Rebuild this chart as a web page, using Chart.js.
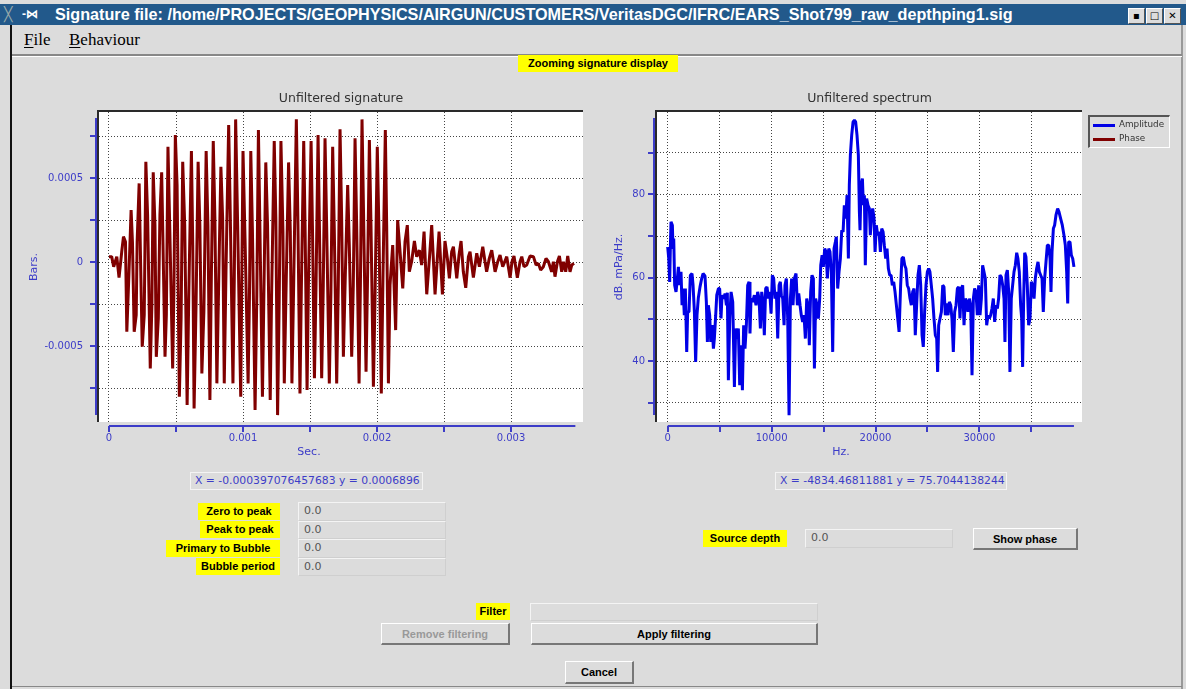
<!DOCTYPE html>
<html lang="en">
  <head>
    <meta charset="UTF-8" />
    <title>Signature file</title>
    <script src="https://cdnjs.cloudflare.com/ajax/libs/Chart.js/4.4.1/chart.umd.min.js"></script>
    <style>
      body { margin: 0; width: 1186px; height: 689px; overflow: hidden; position: relative; background: #dcdcdc; font-family: "Liberation Sans", Arial, sans-serif; }
      .abs { position: absolute; }
      .titlebar { left: 0; top: 4px; width: 1186px; height: 21px; background: #22598b; color: #fff; font: bold 16.2px "Liberation Sans", Arial, sans-serif; line-height: 21px; }
      .winbtn { top: 8px; width: 15px; height: 14px; background: #dcdcdc; border: 1px solid #fff; border-right-color: #555; border-bottom-color: #555; font: bold 10px "DejaVu Sans"; text-align: center; line-height: 14px; color: #000; }
      .menubar { left: 12px; top: 25px; width: 1170px; height: 29px; border-bottom: 2px solid #888; box-shadow: 0 1px 0 #fff; }
      .menu { top: 30px; font: 17px "Liberation Serif", "Times New Roman", serif; color: #000; }
      .menu u { text-decoration: underline; text-underline-offset: 2px; }
      .yl { background: #ffff00; font: bold 11px "Liberation Sans", Arial, sans-serif; color: #000; height: 17px; line-height: 17px; text-align: center; }
      .field { background: #dcdcdc; border: 1px solid #f4f4f4; border-right-color: #cfcfcf; border-bottom-color: #cfcfcf; box-sizing: border-box; font: 11px "DejaVu Sans"; color: #555; line-height: 16px; padding-left: 5px; }
      .readout { border: 1px solid #f4f4f4; box-sizing: border-box; font: 10.8px "DejaVu Sans"; color: #3c3cc8; line-height: 16px; white-space: nowrap; overflow: hidden; padding-left: 4px; }
      .btn { background: #dcdcdc; border: 1px solid #fff; border-right: 2px solid #777; border-bottom: 2px solid #777; box-sizing: border-box; font: bold 11px "Liberation Sans", Arial, sans-serif; color: #000; text-align: center; }
      .legend { left: 1088px; top: 115px; width: 82px; height: 33px; box-sizing: border-box; border: 1px solid #fff; border-left: 2px solid #555; border-top: 2px solid #555; }
      .legend div { position: absolute; left: 29px; font: 8.8px "DejaVu Sans"; color: #333; }
      .legend span { position: absolute; left: 3px; width: 22px; height: 3px; }
    </style>
  </head>

  <body>
    <div class="abs titlebar">
      <span class="abs" style="left:4px;color:#9aa;font-weight:normal;font-size:14px">&#x2573;</span>
      <span class="abs" style="left:22px;font-size:12px">-&#x22C8;</span>
      <span class="abs" style="left:55px">Signature file: /home/PROJECTS/GEOPHYSICS/AIRGUN/CUSTOMERS/VeritasDGC/IFRC/EARS_Shot799_raw_depthping1.sig</span>
    </div>
    <div class="abs winbtn" style="left:1128px">&#x25AA;</div>
    <div class="abs winbtn" style="left:1146px">&#x25A1;</div>
    <div class="abs winbtn" style="left:1164px">&#x2715;</div>
    <div class="abs" style="left:10px;top:25px;width:2px;height:664px;background:#111"></div>
    <div class="abs" style="left:1181px;top:25px;width:2px;height:664px;background:#999"></div>
    <div class="abs" style="left:12px;top:686px;width:1170px;height:1px;background:#888"></div>
    <div class="abs menubar"></div>
    <div class="abs menu" style="left:24px"><u>F</u>ile</div>
    <div class="abs menu" style="left:69px"><u>B</u>ehaviour</div>

    <div class="abs yl" style="left:518px;top:55px;width:160px">Zooming signature display</div>

    <canvas id="sig_chart" class="abs" style="left:20px;top:85px" width="580" height="385"></canvas>
    <canvas id="spec_chart" class="abs" style="left:600px;top:85px" width="490" height="385"></canvas>

    <div class="abs legend">
      <span style="top:7px;background:#0000e6"></span><div style="top:2px">Amplitude</div>
      <span style="top:21px;background:#800000"></span><div style="top:16px">Phase</div>
    </div>

    <div class="abs readout" style="left:190px;top:472px;width:233px;height:18px">X = -0.000397076457683 y = 0.0006896</div>
    <div class="abs readout" style="left:775px;top:472px;width:232px;height:18px">X = -4834.46811881 y = 75.7044138244</div>

    <div class="abs yl" style="left:198px;top:503px;width:82px">Zero to peak</div>
    <div class="abs yl" style="left:200px;top:521px;width:80px">Peak to peak</div>
    <div class="abs yl" style="left:166px;top:540px;width:114px">Primary to Bubble</div>
    <div class="abs yl" style="left:196px;top:558px;width:84px">Bubble period</div>
    <div class="abs field" style="left:298px;top:502px;width:148px;height:19px">0.0</div>
    <div class="abs field" style="left:298px;top:521px;width:148px;height:18px">0.0</div>
    <div class="abs field" style="left:298px;top:539px;width:148px;height:19px">0.0</div>
    <div class="abs field" style="left:298px;top:558px;width:148px;height:18px">0.0</div>

    <div class="abs yl" style="left:703px;top:530px;width:84px">Source depth</div>
    <div class="abs field" style="left:805px;top:529px;width:148px;height:19px">0.0</div>
    <div class="abs btn" style="left:973px;top:528px;width:105px;height:22px;line-height:20px">Show phase</div>

    <div class="abs yl" style="left:476px;top:603px;width:34px">Filter</div>
    <div class="abs field" style="left:530px;top:603px;width:288px;height:18px"></div>
    <div class="abs btn" style="left:381px;top:623px;width:129px;height:22px;line-height:20px;color:#999">Remove filtering</div>
    <div class="abs btn" style="left:531px;top:623px;width:287px;height:22px;line-height:20px">Apply filtering</div>
    <div class="abs btn" style="left:565px;top:661px;width:69px;height:23px;line-height:21px">Cancel</div>

    <script>
      // tick positions (labels only on every other one)
      var sigXTicks = [0, 0.0005, 0.001, 0.0015, 0.002, 0.0025, 0.003];
      var sigYTicks = [-0.00075, -0.0005, -0.00025, 0, 0.00025, 0.0005, 0.00075];
      var specXTicks = [0, 5000, 10000, 15000, 20000, 25000, 30000, 35000];
      var specYTicks = [30, 40, 50, 60, 70, 80, 90];

      // signature, time in ms and pressure in 1e-4 bars
      var sigTimeMs = [
        0, 0.02, 0.035, 0.058, 0.075, 0.095, 0.108, 0.123, 0.133, 0.148,
        0.165, 0.175, 0.188, 0.203, 0.21, 0.225, 0.238, 0.248, 0.263, 0.275,
        0.288, 0.308, 0.32, 0.33, 0.343, 0.353, 0.368, 0.38, 0.393, 0.403,
        0.418, 0.428, 0.44, 0.453, 0.475, 0.485, 0.495, 0.508, 0.525, 0.538,
        0.55, 0.565, 0.583, 0.595, 0.615, 0.625, 0.635, 0.65, 0.665, 0.678,
        0.693, 0.708, 0.725, 0.738, 0.753, 0.763, 0.778, 0.79, 0.805, 0.82,
        0.835, 0.848, 0.86, 0.873, 0.893, 0.905, 0.925, 0.935, 0.945, 0.96,
        0.983, 0.99, 1.0, 1.015, 1.038, 1.048, 1.058, 1.07, 1.09, 1.103,
        1.115, 1.125, 1.145, 1.155, 1.17, 1.183, 1.203, 1.213, 1.233, 1.245,
        1.258, 1.27, 1.283, 1.298, 1.308, 1.32, 1.34, 1.353, 1.365, 1.378,
        1.398, 1.41, 1.425, 1.435, 1.453, 1.463, 1.478, 1.488, 1.508, 1.518,
        1.533, 1.545, 1.56, 1.587, 1.599, 1.612, 1.624, 1.644, 1.656, 1.669,
        1.681, 1.699, 1.711, 1.724, 1.736, 1.749, 1.764, 1.781, 1.793, 1.811,
        1.823, 1.836, 1.848, 1.866, 1.876, 1.888, 1.9, 1.918, 1.93, 1.943,
        1.955, 1.973, 1.985, 2.002, 2.015, 2.032, 2.045, 2.062, 2.072, 2.085,
        2.097, 2.117, 2.139, 2.154, 2.172, 2.192, 2.209, 2.226, 2.241, 2.258,
        2.279, 2.296, 2.316, 2.333, 2.351, 2.371, 2.391, 2.408, 2.433, 2.45,
        2.463, 2.488, 2.507, 2.525, 2.54, 2.557, 2.57, 2.595, 2.612, 2.627,
        2.644, 2.662, 2.682, 2.694, 2.719, 2.744, 2.764, 2.789, 2.806, 2.818,
        2.838, 2.856, 2.881, 2.901, 2.918, 2.938, 2.968, 2.993, 3.007, 3.022,
        3.047, 3.067, 3.08, 3.097, 3.117, 3.142, 3.167, 3.187, 3.204, 3.221,
        3.241, 3.261, 3.279, 3.303, 3.316, 3.328, 3.346, 3.361, 3.378, 3.391,
        3.408, 3.423, 3.44, 3.453, 3.47
      ];
      var sigBarsE4 = [
        0.34, 0.34, -0.26, 0.34, -0.91, 0.63, 1.53, 1.23, -4.13, -0.85,
        3.12, 1.23, -4.13, -3.13, 1.23, 4.7, -0.95, -5.02, -3.13, 5.99,
        2.82, -6.31, -2.54, 5.36, 2.22, -5.62, -3.33, 2.82, 5.36, 1.03,
        -5.62, -3.13, 6.88, 2.22, -6.31, -1.35, 7.58, 4.6, -8.0, -3.33,
        5.99, 2.22, -8.49, -2.14, 6.63, 1.03, -8.69, -2.34, 5.99, 2.22,
        -6.61, -2.94, 6.63, 2.22, -8.19, -1.35, 7.22, 2.72, -7.2, -0.56,
        5.69, 2.62, -7.2, -0.56, 8.17, 2.82, -7.2, -0.95, 8.51, 2.22,
        -8.0, -1.75, 6.63, 1.43, -7.2, -2.14, 6.63, 2.02, -8.79, -1.94,
        7.88, 2.62, -8.0, -2.34, 5.95, 2.22, -8.19, -2.14, 7.22, 2.62,
        -9.09, -2.34, 7.22, 1.83, -7.2, -2.14, 5.95, 1.83, -7.2, -1.35,
        8.51, 2.22, -7.8, -1.75, 7.22, 2.22, -7.6, -1.35, 7.22, 2.22,
        -6.9, -1.35, 7.58, -6.9, -1.35, 7.38, 2.22, -7.2, -1.75, 6.88,
        2.02, -7.2, -1.35, 7.92, 2.62, -5.62, -0.56, 4.6, 1.03, -5.62,
        -1.35, 7.38, 2.22, -7.2, -1.35, 8.51, 2.62, -6.51, -0.56, 7.28,
        2.22, -7.4, -2.14, 6.88, 1.63, -7.8, -0.56, 7.88, 2.22, -7.2,
        -1.35, 1.03, -4.03, 2.52, 0.63, -1.55, 1.23, 2.22, -0.56, 0.04,
        1.27, 0.34, 0.73, -0.16, 1.83, -1.9, 0.24, 2.22, -1.9, 0.24,
        1.83, -1.9, 1.27, 0.24, -0.95, 0.63, 0.93, -0.95, 0.44, 1.27,
        -0.56, -1.51, 0.34, 0.63, -0.91, 0.54, -0.26, 0.93, 0.04, -0.56,
        0.24, 0.73, -0.56, 0.04, 0.44, -0.26, 0.34, -0.91, 0.04, 0.38,
        -0.91, 0.04, 0.34, -0.26, -0.16, 0.38, 0.34, -0.16, -0.06, -0.46,
        -0.26, 0.24, 0.04, -0.56, 0.04, -0.85, 0.04, 0.38, -0.56, 0.04,
        -0.56, 0.38, -0.56, -0.16, -0.06
      ];

      // spectrum, frequency in kHz and amplitude in dB
      var specFreqKHz = [
        0, 0.1, 0.19, 0.26, 0.32, 0.45, 0.51, 0.58, 0.67, 0.8,
        0.9, 1.03, 1.15, 1.28, 1.38, 1.48, 1.6, 1.7, 1.83, 1.92,
        2.05, 2.18, 2.34, 2.44, 2.57, 2.69, 2.82, 2.95, 3.11, 3.27,
        3.4, 3.59, 3.72, 3.82, 3.91, 4.04, 4.14, 4.27, 4.4, 4.49,
        4.62, 4.72, 4.88, 5.0, 5.13, 5.23, 5.39, 5.52, 5.65, 5.74,
        5.84, 5.97, 6.1, 6.26, 6.42, 6.54, 6.67, 6.8, 6.93, 7.06,
        7.19, 7.31, 7.44, 7.57, 7.7, 7.83, 7.92, 8.02, 8.18, 8.34,
        8.5, 8.66, 8.79, 8.92, 9.05, 9.18, 9.3, 9.43, 9.56, 9.69,
        9.82, 9.95, 10.07, 10.2, 10.33, 10.46, 10.59, 10.72, 10.84, 10.94,
        11.07, 11.2, 11.29, 11.42, 11.55, 11.68, 11.81, 11.93, 12.06, 12.19,
        12.35, 12.48, 12.61, 12.74, 12.86, 12.99, 13.12, 13.25, 13.38, 13.51,
        13.63, 13.76, 13.89, 14.02, 14.12, 14.24, 14.37, 14.5, 14.63, 14.73,
        14.86, 14.98, 15.11, 15.24, 15.37, 15.5, 15.62, 15.75, 15.88, 16.01,
        16.14, 16.23, 16.36, 16.49, 16.62, 16.75, 16.88, 17.0, 17.13, 17.26,
        17.39, 17.48, 17.58, 17.71, 17.84, 17.97, 18.09, 18.22, 18.35, 18.45,
        18.51, 18.61, 18.74, 18.83, 18.93, 19.02, 19.15, 19.28, 19.41, 19.5,
        19.6, 19.73, 19.86, 19.96, 20.08, 20.21, 20.34, 20.47, 20.6, 20.73,
        20.85, 20.98, 21.11, 21.24, 21.37, 21.5, 21.62, 21.75, 21.88, 22.01,
        22.14, 22.27, 22.42, 22.54, 22.68, 22.81, 22.93, 23.06, 23.19, 23.32,
        23.45, 23.58, 23.71, 23.83, 23.96, 24.09, 24.22, 24.35, 24.48, 24.6,
        24.73, 24.86, 24.99, 25.12, 25.24, 25.37, 25.5, 25.63, 25.76, 25.89,
        25.98, 26.08, 26.21, 26.34, 26.47, 26.59, 26.72, 26.85, 26.98, 27.11,
        27.24, 27.36, 27.49, 27.62, 27.75, 27.88, 28.01, 28.13, 28.26, 28.39,
        28.52, 28.65, 28.77, 28.9, 29.03, 29.16, 29.29, 29.42, 29.54, 29.67,
        29.8, 29.93, 30.06, 30.19, 30.31, 30.44, 30.57, 30.7, 30.83, 30.96,
        31.08, 31.21, 31.34, 31.47, 31.6, 31.73, 31.85, 31.98, 32.11, 32.24,
        32.37, 32.46, 32.56, 32.69, 32.82, 32.94, 33.07, 33.2, 33.33, 33.46,
        33.59, 33.71, 33.84, 33.97, 34.07, 34.16, 34.26, 34.36, 34.48, 34.61,
        34.74, 34.87, 35.0, 35.13, 35.26, 35.38, 35.51, 35.64, 35.77, 35.9,
        36.03, 36.15, 36.28, 36.41, 36.54, 36.67, 36.8, 36.89, 36.99, 37.12,
        37.24, 37.37, 37.53, 37.66, 37.82, 37.98, 38.14, 38.27, 38.4, 38.5,
        38.59, 38.72, 38.85, 38.98, 39.1
      ];
      var specDb = [
        67.4, 64.6, 59.0, 67.8, 73.4, 72.6, 67.0, 69.4, 58.2, 56.6,
        59.0, 62.6, 58.2, 61.4, 53.4, 57.4, 51.0, 57.4, 42.2, 51.8,
        51.8, 60.6, 61.0, 58.2, 51.8, 39.8, 51.0, 55.2, 57.8, 59.8,
        61.0, 60.4, 54.2, 44.6, 53.4, 51.0, 44.6, 48.6, 43.0, 45.4,
        51.0, 55.8, 57.4, 57.4, 50.2, 55.8, 55.0, 56.2, 53.4, 56.4,
        35.4, 50.2, 56.6, 54.2, 33.8, 47.8, 45.4, 47.8, 34.2, 43.8,
        33.0, 48.6, 43.0, 48.6, 58.2, 59.0, 46.6, 55.0, 54.2, 55.8,
        53.4, 56.6, 55.0, 47.8, 56.6, 54.2, 46.2, 57.4, 57.8, 55.0,
        56.6, 51.4, 60.6, 59.8, 55.0, 56.6, 45.4, 58.2, 59.0, 55.8,
        55.0, 48.6, 58.2, 59.8, 50.2, 27.0, 55.0, 59.8, 53.4, 59.8,
        61.0, 53.4, 56.2, 53.4, 51.0, 49.4, 51.0, 45.4, 55.0, 53.4,
        43.8, 56.6, 60.6, 59.8, 38.2, 55.0, 53.4, 50.2, 55.0, 63.0,
        65.4, 62.6, 67.0, 66.2, 59.8, 67.0, 66.2, 61.4, 42.2, 67.0,
        68.6, 69.8, 57.4, 61.4, 64.6, 71.4, 71.0, 77.4, 74.2, 79.8,
        64.6, 82.2, 89.4, 94.2, 97.4, 97.8, 97.4, 94.2, 89.4, 75.8,
        71.4, 82.2, 83.8, 77.4, 79.8, 63.0, 79.0, 77.4, 76.6, 70.2,
        74.2, 76.6, 74.2, 66.2, 72.6, 70.2, 71.0, 66.2, 71.8, 71.0,
        67.8, 64.6, 67.0, 62.2, 60.6, 60.6, 58.2, 59.0, 56.6, 53.4,
        50.2, 47.0, 58.2, 64.6, 65.0, 63.0, 62.2, 58.2, 57.4, 55.0,
        53.4, 56.6, 57.4, 46.2, 53.4, 60.6, 63.0, 58.2, 46.2, 43.4,
        51.8, 58.2, 61.4, 62.2, 61.4, 58.2, 55.0, 50.2, 46.2, 45.4,
        37.4, 48.6, 50.2, 51.8, 58.2, 57.8, 51.0, 53.8, 51.0, 54.2,
        53.4, 50.2, 42.2, 51.8, 53.4, 57.4, 57.8, 50.2, 57.4, 58.2,
        48.6, 55.0, 54.2, 51.8, 55.0, 53.4, 36.6, 55.0, 57.4, 56.6,
        51.0, 58.2, 51.0, 55.0, 63.0, 61.4, 59.8, 48.6, 51.0, 50.2,
        51.0, 52.6, 55.0, 49.4, 53.4, 52.6, 55.0, 60.6, 60.2, 58.2,
        55.0, 44.6, 60.6, 61.8, 56.6, 37.4, 55.0, 58.2, 61.4, 63.0,
        66.0, 64.6, 61.4, 53.4, 50.2, 38.6, 55.0, 66.0, 65.0, 58.2,
        48.6, 50.2, 59.0, 58.2, 55.0, 59.8, 62.2, 63.8, 61.4, 60.6,
        59.8, 51.8, 59.8, 63.8, 67.8, 67.8, 64.6, 56.6, 66.2, 71.8,
        72.6, 75.0, 76.6, 75.8, 74.2, 72.6, 70.2, 67.8, 61.4, 53.8,
        68.6, 68.6, 65.4, 64.6, 62.6
      ];

      var axisBlue = "#3c3cc8";
      Chart.defaults.font.family = "DejaVu Sans";
      Chart.defaults.animation = false;

      // white plot area, sunken frame and the detached blue axes
      const frameAxes = {
        id: "frameAxes",
        beforeDraw(chart) {
          const { ctx, chartArea: a } = chart;
          ctx.save();
          ctx.fillStyle = "#fff";
          ctx.fillRect(a.left, a.top, a.right - a.left, a.bottom - a.top);
          ctx.restore();
        },
        afterDraw(chart, args, o) {
          const { ctx, chartArea: a } = chart;
          const x = chart.scales.x, y = chart.scales.y;
          ctx.save();
          ctx.strokeStyle = "#2a2a2a";
          ctx.lineWidth = 2;
          ctx.beginPath();
          ctx.moveTo(a.left - 1, a.bottom);
          ctx.lineTo(a.left - 1, a.top - 1);
          ctx.lineTo(a.right, a.top - 1);
          ctx.stroke();

          const ax = a.left - 3, ay = a.bottom + 4;
          ctx.strokeStyle = axisBlue;
          ctx.lineWidth = 2;
          ctx.beginPath();
          ctx.moveTo(ax, a.top + 6);
          ctx.lineTo(ax, a.bottom - 7);
          ctx.moveTo(x.getPixelForValue(o.xFrom), ay);
          ctx.lineTo(x.getPixelForValue(o.xTo), ay);
          y.ticks.forEach(t => {
            const py = Math.round(y.getPixelForValue(t.value));
            ctx.moveTo(ax - 6, py);
            ctx.lineTo(ax, py);
          });
          x.ticks.forEach(t => {
            const px = Math.round(x.getPixelForValue(t.value));
            ctx.moveTo(px, ay);
            ctx.lineTo(px, ay + 6);
          });
          ctx.stroke();

          ctx.fillStyle = axisBlue;
          ctx.font = '11px "DejaVu Sans"';
          ctx.textAlign = "center";
          ctx.textBaseline = "middle";
          ctx.fillText(o.xTitle, o.xTitleX, o.xTitleY);
          ctx.restore();
        }
      };

      function gridOpts() {
        return { color: "#444", lineWidth: 1, drawTicks: false };
      }
      function tickFont() {
        return { size: 10 };
      }
      function useTicks(list) {
        return s => { s.ticks = list.map(v => ({ value: v })); };
      }
      // label only the ticks that are whole multiples of step
      function everyLabel(step) {
        return v => {
          const k = Math.round(v / step);
          return Math.abs(v - k * step) < step * 1e-6 ? String(k === 0 ? 0 : +(k * step).toPrecision(6)) : "";
        };
      }

      const sigData = sigTimeMs.map((t, i) => ({ x: t / 1000, y: sigBarsE4[i] / 10000 }));
      const specData = specFreqKHz.map((f, i) => ({ x: f * 1000, y: specDb[i] }));

      const sigChart = new Chart("sig_chart", {
        type: "line",
        data: {
          datasets: [{
            label: "Signature",
            data: sigData,
            borderColor: "#800000",
            borderWidth: 3,
            borderJoinStyle: "bevel",
            pointRadius: 0,
            tension: 0
          }]
        },
        options: {
          responsive: false,
          layout: { padding: { left: 0, top: 0, right: 17, bottom: 0 } },
          plugins: {
            legend: { display: false },
            tooltip: { enabled: false },
            title: {
              display: true, text: "Unfiltered signature", fullSize: false, color: "#333",
              font: { size: 12.5, weight: "normal", lineHeight: 1.2 }, padding: { top: 6, bottom: 6 }
            },
            frameAxes: { xFrom: 0, xTo: 0.00348, xTitle: "Sec.", xTitleX: 289, xTitleY: 367 }
          },
          scales: {
            x: {
              type: "linear", min: -0.0000746, max: 0.003537,
              afterBuildTicks: useTicks(sigXTicks),
              afterFit: s => { s.height = 48; },
              grid: gridOpts(),
              border: { display: false, dash: [1, 2] },
              ticks: {
                autoSkip: false, maxRotation: 0,
                padding: 10, color: axisBlue, font: tickFont(),
                callback: everyLabel(0.001)
              }
            },
            y: {
              type: "linear", min: -0.00095, max: 0.000895,
              afterBuildTicks: useTicks(sigYTicks),
              afterFit: s => { s.width = 79; },
              grid: gridOpts(),
              border: { display: false, dash: [1, 2] },
              title: { display: true, text: "Bars.", color: axisBlue, font: { size: 11 }, padding: { top: 8, bottom: 0 } },
              ticks: {
                autoSkip: false,
                padding: 16, color: axisBlue, font: tickFont(),
                callback: everyLabel(0.0005)
              }
            }
          }
        },
        plugins: [frameAxes]
      });

      const specChart = new Chart("spec_chart", {
        type: "line",
        data: {
          datasets: [{
            label: "Amplitude",
            data: specData,
            borderColor: "#0000e6",
            borderWidth: 3,
            borderJoinStyle: "bevel",
            pointRadius: 0,
            tension: 0
          }, {
            label: "Phase",
            data: [],
            borderColor: "#800000"
          }]
        },
        options: {
          responsive: false,
          layout: { padding: { left: 0, top: 0, right: 8, bottom: 0 } },
          plugins: {
            legend: { display: false },
            tooltip: { enabled: false },
            title: {
              display: true, text: "Unfiltered spectrum", fullSize: false, color: "#333",
              font: { size: 12.5, weight: "normal", lineHeight: 1.2 }, padding: { top: 6, bottom: 6 }
            },
            frameAxes: { xFrom: 0, xTo: 39100, xTitle: "Hz.", xTitleX: 241, xTitleY: 367 }
          },
          scales: {
            x: {
              type: "linear", min: -1030, max: 39875,
              afterBuildTicks: useTicks(specXTicks),
              afterFit: s => { s.height = 48; },
              grid: gridOpts(),
              border: { display: false, dash: [1, 2] },
              ticks: {
                autoSkip: false, maxRotation: 0,
                padding: 10, color: axisBlue, font: tickFont(),
                callback: everyLabel(10000)
              }
            },
            y: {
              type: "linear", min: 25.37, max: 99.77,
              afterBuildTicks: useTicks(specYTicks),
              afterFit: s => { s.width = 57; },
              grid: gridOpts(),
              border: { display: false, dash: [1, 2] },
              title: { display: true, text: "dB. mPa/Hz.", color: axisBlue, font: { size: 11 }, padding: { top: 13, bottom: 0 } },
              ticks: {
                autoSkip: false,
                padding: 12, color: axisBlue, font: tickFont(),
                callback: everyLabel(20)
              }
            }
          }
        },
        plugins: [frameAxes]
      });
    </script>
  </body>
</html>
